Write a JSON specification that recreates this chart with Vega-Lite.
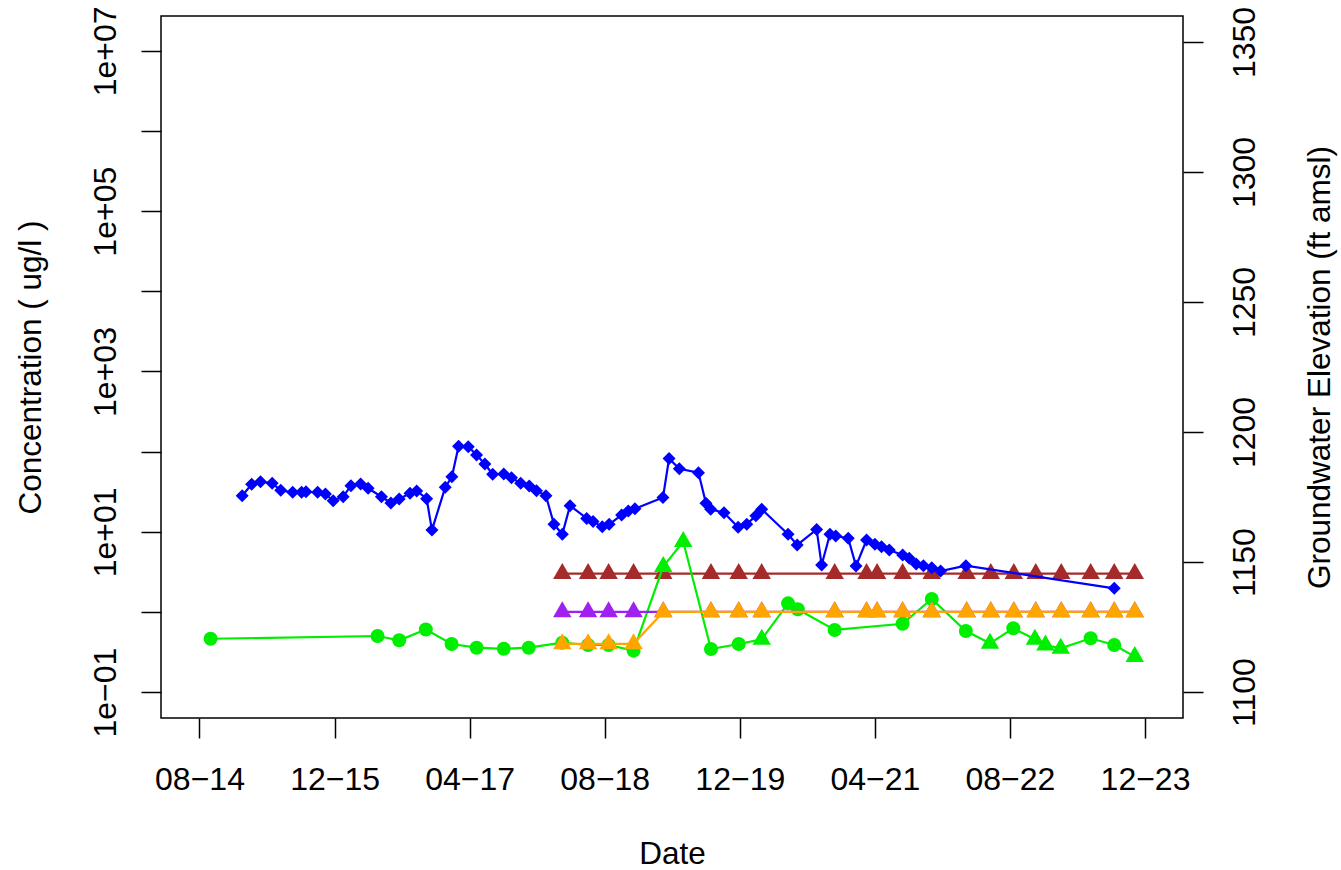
{
  "$schema": "https://vega.github.io/schema/vega-lite/v6.json",
  "width": 1022,
  "height": 702,
  "autosize": "none",
  "padding": {"left": 161, "top": 16, "right": 158, "bottom": 152},
  "background": "white",
  "config": {
    "view": {"stroke": "black", "strokeWidth": 1.5},
    "font": "Liberation Sans",
    "axis": {
      "grid": false,
      "domain": false,
      "labelFont": "Liberation Sans",
      "titleFont": "Liberation Sans",
      "labelFontSize": 32,
      "titleFontSize": 31.5,
      "titleFontWeight": "normal",
      "labelColor": "black",
      "titleColor": "black",
      "tickColor": "black",
      "tickWidth": 1.5,
      "tickSize": 20,
      "labelFlush": false,
      "labelOverlap": false,
      "labelBound": false
    }
  },
  "datasets": {
    "conc": [
      {"analyte": "A", "date": "2015-01-02", "value": 28.2, "detected": true},
      {"analyte": "A", "date": "2015-02-05", "value": 39.2, "detected": true},
      {"analyte": "A", "date": "2015-03-09", "value": 42.2, "detected": true},
      {"analyte": "A", "date": "2015-04-20", "value": 40.3, "detected": true},
      {"analyte": "A", "date": "2015-05-21", "value": 33.0, "detected": true},
      {"analyte": "A", "date": "2015-07-03", "value": 31.1, "detected": true},
      {"analyte": "A", "date": "2015-08-04", "value": 31.1, "detected": true},
      {"analyte": "A", "date": "2015-08-20", "value": 31.6, "detected": true},
      {"analyte": "A", "date": "2015-10-01", "value": 31.1, "detected": true},
      {"analyte": "A", "date": "2015-10-29", "value": 29.6, "detected": true},
      {"analyte": "A", "date": "2015-11-26", "value": 24.4, "detected": true},
      {"analyte": "A", "date": "2016-01-01", "value": 27.4, "detected": true},
      {"analyte": "A", "date": "2016-01-29", "value": 37.6, "detected": true},
      {"analyte": "A", "date": "2016-03-04", "value": 39.5, "detected": true},
      {"analyte": "A", "date": "2016-03-31", "value": 34.9, "detected": true},
      {"analyte": "A", "date": "2016-05-18", "value": 27.4, "detected": true},
      {"analyte": "A", "date": "2016-06-21", "value": 22.9, "detected": true},
      {"analyte": "A", "date": "2016-07-21", "value": 25.7, "detected": true},
      {"analyte": "A", "date": "2016-08-29", "value": 30.2, "detected": true},
      {"analyte": "A", "date": "2016-09-22", "value": 32.3, "detected": true},
      {"analyte": "A", "date": "2016-10-28", "value": 25.9, "detected": true},
      {"analyte": "A", "date": "2016-11-16", "value": 10.5, "detected": true},
      {"analyte": "A", "date": "2017-01-03", "value": 35.9, "detected": true},
      {"analyte": "A", "date": "2017-01-27", "value": 48.5, "detected": true},
      {"analyte": "A", "date": "2017-02-20", "value": 116.6, "detected": true},
      {"analyte": "A", "date": "2017-03-27", "value": 115.3, "detected": true},
      {"analyte": "A", "date": "2017-04-26", "value": 90.8, "detected": true},
      {"analyte": "A", "date": "2017-05-26", "value": 70.1, "detected": true},
      {"analyte": "A", "date": "2017-06-23", "value": 52.2, "detected": true},
      {"analyte": "A", "date": "2017-08-02", "value": 52.6, "detected": true},
      {"analyte": "A", "date": "2017-08-30", "value": 47.3, "detected": true},
      {"analyte": "A", "date": "2017-10-02", "value": 40.3, "detected": true},
      {"analyte": "A", "date": "2017-11-02", "value": 37.3, "detected": true},
      {"analyte": "A", "date": "2017-11-28", "value": 32.6, "detected": true},
      {"analyte": "A", "date": "2018-01-01", "value": 28.2, "detected": true},
      {"analyte": "A", "date": "2018-01-30", "value": 12.4, "detected": true},
      {"analyte": "A", "date": "2018-03-01", "value": 9.3, "detected": true},
      {"analyte": "A", "date": "2018-03-29", "value": 21.2, "detected": true},
      {"analyte": "A", "date": "2018-05-28", "value": 14.7, "detected": true},
      {"analyte": "A", "date": "2018-06-20", "value": 13.4, "detected": true},
      {"analyte": "A", "date": "2018-07-23", "value": 11.6, "detected": true},
      {"analyte": "A", "date": "2018-08-17", "value": 12.4, "detected": true},
      {"analyte": "A", "date": "2018-10-01", "value": 16.2, "detected": true},
      {"analyte": "A", "date": "2018-10-25", "value": 18.2, "detected": true},
      {"analyte": "A", "date": "2018-11-18", "value": 19.4, "detected": true},
      {"analyte": "A", "date": "2019-02-27", "value": 26.8, "detected": true},
      {"analyte": "A", "date": "2019-03-21", "value": 81.9, "detected": true},
      {"analyte": "A", "date": "2019-04-27", "value": 61.1, "detected": true},
      {"analyte": "A", "date": "2019-07-05", "value": 54.6, "detected": true},
      {"analyte": "A", "date": "2019-08-01", "value": 22.7, "detected": true},
      {"analyte": "A", "date": "2019-08-18", "value": 19.1, "detected": true},
      {"analyte": "A", "date": "2019-10-05", "value": 17.3, "detected": true},
      {"analyte": "A", "date": "2019-11-25", "value": 11.4, "detected": true},
      {"analyte": "A", "date": "2019-12-26", "value": 12.4, "detected": true},
      {"analyte": "A", "date": "2020-01-28", "value": 15.9, "detected": true},
      {"analyte": "A", "date": "2020-02-18", "value": 19.1, "detected": true},
      {"analyte": "A", "date": "2020-05-23", "value": 9.3, "detected": true},
      {"analyte": "A", "date": "2020-06-25", "value": 6.85, "detected": true},
      {"analyte": "A", "date": "2020-09-03", "value": 10.7, "detected": true},
      {"analyte": "A", "date": "2020-09-21", "value": 3.85, "detected": true},
      {"analyte": "A", "date": "2020-10-21", "value": 9.3, "detected": true},
      {"analyte": "A", "date": "2020-11-11", "value": 8.87, "detected": true},
      {"analyte": "A", "date": "2020-12-26", "value": 8.3, "detected": true},
      {"analyte": "A", "date": "2021-01-23", "value": 3.74, "detected": true},
      {"analyte": "A", "date": "2021-03-02", "value": 7.9, "detected": true},
      {"analyte": "A", "date": "2021-04-01", "value": 6.98, "detected": true},
      {"analyte": "A", "date": "2021-04-25", "value": 6.52, "detected": true},
      {"analyte": "A", "date": "2021-05-23", "value": 5.93, "detected": true},
      {"analyte": "A", "date": "2021-07-10", "value": 5.14, "detected": true},
      {"analyte": "A", "date": "2021-08-03", "value": 4.67, "detected": true},
      {"analyte": "A", "date": "2021-08-28", "value": 3.96, "detected": true},
      {"analyte": "A", "date": "2021-09-23", "value": 3.78, "detected": true},
      {"analyte": "A", "date": "2021-10-23", "value": 3.57, "detected": true},
      {"analyte": "A", "date": "2021-11-24", "value": 3.24, "detected": true},
      {"analyte": "A", "date": "2022-02-23", "value": 3.78, "detected": true},
      {"analyte": "A", "date": "2023-08-12", "value": 1.97, "detected": true},

      {"analyte": "B", "date": "2014-09-10", "value": 0.463, "detected": true},
      {"analyte": "B", "date": "2016-05-04", "value": 0.501, "detected": true},
      {"analyte": "B", "date": "2016-07-21", "value": 0.443, "detected": true},
      {"analyte": "B", "date": "2016-10-25", "value": 0.604, "detected": true},
      {"analyte": "B", "date": "2017-01-26", "value": 0.398, "detected": true},
      {"analyte": "B", "date": "2017-04-26", "value": 0.358, "detected": true},
      {"analyte": "B", "date": "2017-08-02", "value": 0.347, "detected": true},
      {"analyte": "B", "date": "2017-10-31", "value": 0.358, "detected": true},
      {"analyte": "B", "date": "2018-03-01", "value": 0.413, "detected": true},
      {"analyte": "B", "date": "2018-06-02", "value": 0.387, "detected": true},
      {"analyte": "B", "date": "2018-08-15", "value": 0.387, "detected": true},
      {"analyte": "B", "date": "2018-11-13", "value": 0.329, "detected": true},
      {"analyte": "B", "date": "2019-02-28", "value": 3.68, "detected": false},
      {"analyte": "B", "date": "2019-05-11", "value": 7.55, "detected": false},
      {"analyte": "B", "date": "2019-08-19", "value": 0.345, "detected": true},
      {"analyte": "B", "date": "2019-11-27", "value": 0.398, "detected": true},
      {"analyte": "B", "date": "2020-02-18", "value": 0.456, "detected": false},
      {"analyte": "B", "date": "2020-05-23", "value": 1.28, "detected": true},
      {"analyte": "B", "date": "2020-06-27", "value": 1.08, "detected": true},
      {"analyte": "B", "date": "2020-11-07", "value": 0.596, "detected": true},
      {"analyte": "B", "date": "2021-07-10", "value": 0.713, "detected": true},
      {"analyte": "B", "date": "2021-10-23", "value": 1.45, "detected": true},
      {"analyte": "B", "date": "2022-02-23", "value": 0.578, "detected": true},
      {"analyte": "B", "date": "2022-05-21", "value": 0.406, "detected": false},
      {"analyte": "B", "date": "2022-08-13", "value": 0.625, "detected": true},
      {"analyte": "B", "date": "2022-10-30", "value": 0.456, "detected": false},
      {"analyte": "B", "date": "2022-12-07", "value": 0.387, "detected": false},
      {"analyte": "B", "date": "2023-01-31", "value": 0.352, "detected": false},
      {"analyte": "B", "date": "2023-05-19", "value": 0.469, "detected": true},
      {"analyte": "B", "date": "2023-08-12", "value": 0.387, "detected": true},
      {"analyte": "B", "date": "2023-10-25", "value": 0.277, "detected": false},

      {"analyte": "C", "date": "2018-03-01", "value": 3, "detected": false},
      {"analyte": "C", "date": "2018-06-02", "value": 3, "detected": false},
      {"analyte": "C", "date": "2018-08-15", "value": 3, "detected": false},
      {"analyte": "C", "date": "2018-11-13", "value": 3, "detected": false},
      {"analyte": "C", "date": "2019-02-28", "value": 3, "detected": false},
      {"analyte": "C", "date": "2019-08-19", "value": 3, "detected": false},
      {"analyte": "C", "date": "2019-11-27", "value": 3, "detected": false},
      {"analyte": "C", "date": "2020-02-18", "value": 3, "detected": false},
      {"analyte": "C", "date": "2020-11-07", "value": 3, "detected": false},
      {"analyte": "C", "date": "2021-03-02", "value": 3, "detected": false},
      {"analyte": "C", "date": "2021-04-09", "value": 3, "detected": false},
      {"analyte": "C", "date": "2021-07-10", "value": 3, "detected": false},
      {"analyte": "C", "date": "2021-10-23", "value": 3, "detected": false},
      {"analyte": "C", "date": "2022-02-26", "value": 3, "detected": false},
      {"analyte": "C", "date": "2022-05-24", "value": 3, "detected": false},
      {"analyte": "C", "date": "2022-08-15", "value": 3, "detected": false},
      {"analyte": "C", "date": "2022-11-02", "value": 3, "detected": false},
      {"analyte": "C", "date": "2023-02-02", "value": 3, "detected": false},
      {"analyte": "C", "date": "2023-05-19", "value": 3, "detected": false},
      {"analyte": "C", "date": "2023-08-12", "value": 3, "detected": false},
      {"analyte": "C", "date": "2023-10-25", "value": 3, "detected": false},

      {"analyte": "D", "date": "2018-03-01", "value": 1, "detected": false},
      {"analyte": "D", "date": "2018-06-02", "value": 1, "detected": false},
      {"analyte": "D", "date": "2018-08-15", "value": 1, "detected": false},
      {"analyte": "D", "date": "2018-11-13", "value": 1, "detected": false},
      {"analyte": "D", "date": "2019-02-28", "value": 1, "detected": false},
      {"analyte": "D", "date": "2019-08-19", "value": 1, "detected": false},
      {"analyte": "D", "date": "2019-11-27", "value": 1, "detected": false},
      {"analyte": "D", "date": "2020-02-18", "value": 1, "detected": false},
      {"analyte": "D", "date": "2020-11-07", "value": 1, "detected": false},
      {"analyte": "D", "date": "2021-03-02", "value": 1, "detected": false},
      {"analyte": "D", "date": "2021-04-09", "value": 1, "detected": false},
      {"analyte": "D", "date": "2021-07-10", "value": 1, "detected": false},
      {"analyte": "D", "date": "2021-10-23", "value": 1, "detected": false},
      {"analyte": "D", "date": "2022-02-26", "value": 1, "detected": false},
      {"analyte": "D", "date": "2022-05-24", "value": 1, "detected": false},
      {"analyte": "D", "date": "2022-08-15", "value": 1, "detected": false},
      {"analyte": "D", "date": "2022-11-02", "value": 1, "detected": false},
      {"analyte": "D", "date": "2023-02-02", "value": 1, "detected": false},
      {"analyte": "D", "date": "2023-05-19", "value": 1, "detected": false},
      {"analyte": "D", "date": "2023-08-12", "value": 1, "detected": false},
      {"analyte": "D", "date": "2023-10-25", "value": 1, "detected": false},

      {"analyte": "E", "date": "2018-03-01", "value": 0.4, "detected": false},
      {"analyte": "E", "date": "2018-06-02", "value": 0.4, "detected": false},
      {"analyte": "E", "date": "2018-08-15", "value": 0.4, "detected": false},
      {"analyte": "E", "date": "2018-11-13", "value": 0.4, "detected": false},
      {"analyte": "E", "date": "2019-02-28", "value": 1, "detected": false},
      {"analyte": "E", "date": "2019-08-19", "value": 1, "detected": false},
      {"analyte": "E", "date": "2019-11-27", "value": 1, "detected": false},
      {"analyte": "E", "date": "2020-02-18", "value": 1, "detected": false},
      {"analyte": "E", "date": "2020-11-07", "value": 1, "detected": false},
      {"analyte": "E", "date": "2021-03-02", "value": 1, "detected": false},
      {"analyte": "E", "date": "2021-04-09", "value": 1, "detected": false},
      {"analyte": "E", "date": "2021-07-10", "value": 1, "detected": false},
      {"analyte": "E", "date": "2021-10-23", "value": 1, "detected": false},
      {"analyte": "E", "date": "2022-02-26", "value": 1, "detected": false},
      {"analyte": "E", "date": "2022-05-24", "value": 1, "detected": false},
      {"analyte": "E", "date": "2022-08-15", "value": 1, "detected": false},
      {"analyte": "E", "date": "2022-11-02", "value": 1, "detected": false},
      {"analyte": "E", "date": "2023-02-02", "value": 1, "detected": false},
      {"analyte": "E", "date": "2023-05-19", "value": 1, "detected": false},
      {"analyte": "E", "date": "2023-08-12", "value": 1, "detected": false},
      {"analyte": "E", "date": "2023-10-25", "value": 1, "detected": false}
    ]
  },
  "data": {"name": "conc"},
  "encoding": {
    "x": {
      "field": "date",
      "type": "temporal",
      "scale": {
        "type": "utc",
        "nice": false,
        "domain": [
          {"year": 2014, "month": 3, "date": 15, "hours": 5, "utc": true},
          {"year": 2024, "month": 4, "date": 15, "hours": 22, "utc": true}
        ]
      },
      "axis": {
        "values": [
          {"year": 2014, "month": 8, "date": 1, "utc": true},
          {"year": 2015, "month": 12, "date": 1, "utc": true},
          {"year": 2017, "month": 4, "date": 1, "utc": true},
          {"year": 2018, "month": 8, "date": 1, "utc": true},
          {"year": 2019, "month": 12, "date": 1, "utc": true},
          {"year": 2021, "month": 4, "date": 1, "utc": true},
          {"year": 2022, "month": 8, "date": 1, "utc": true},
          {"year": 2023, "month": 12, "date": 1, "utc": true}
        ],
        "labelExpr": "utcFormat(datum.value, '%m') + '\u2212' + utcFormat(datum.value, '%y')",
        "labelBaseline": "top",
        "labelAlign": "center",
        "labelPadding": 26,
        "title": "Date",
        "titleX": 511,
        "titleY": 145,
        "titleAlign": "center",
        "titleBaseline": "alphabetic",
        "titleAnchor": null
      }
    }
  },
  "layer": [
    {
      "encoding": {
        "y": {
          "field": "value",
          "type": "quantitative",
          "scale": {"type": "log", "domain": [0.04752, 27250000], "nice": false},
          "axis": {
            "orient": "left",
            "values": [0.1, 1, 10, 100, 1000, 10000, 100000, 1000000, 10000000],
            "labelExpr": "(round(log(datum.value)/LN10) % 2 != 0) ? ('1e' + (datum.value < 1 ? '\u2212' : '+') + (abs(round(log(datum.value)/LN10)) < 10 ? '0' : '') + abs(round(log(datum.value)/LN10))) : ''",
            "labelAngle": -90,
            "labelAlign": "center",
            "labelBaseline": "alphabetic",
            "labelPadding": 26,
            "title": "Concentration ( ug/l )",
            "titleAngle": -90,
            "titleX": -121,
            "titleY": 351,
            "titleAlign": "center",
            "titleBaseline": "alphabetic",
            "titleAnchor": null
          }
        }
      },
      "layer": [
        {"transform": [{"filter": "datum.analyte === 'C'"}], "mark": {"type": "line", "color": "#A52A2A", "strokeWidth": 2.2}},
        {"transform": [{"filter": "datum.analyte === 'C'"}], "mark": {"type": "point", "shape": "triangle-up", "filled": true, "size": 340, "color": "#A52A2A", "opacity": 1, "strokeWidth": 0, "yOffset": -2.6}},
        {"transform": [{"filter": "datum.analyte === 'B'"}], "mark": {"type": "line", "color": "#00EE00", "strokeWidth": 2.2}},
        {"transform": [{"filter": "datum.analyte === 'B' && datum.detected"}], "mark": {"type": "point", "shape": "circle", "filled": true, "size": 196, "color": "#00EE00", "opacity": 1, "strokeWidth": 0}},
        {"transform": [{"filter": "datum.analyte === 'B' && !datum.detected"}], "mark": {"type": "point", "shape": "triangle-up", "filled": true, "size": 340, "color": "#00EE00", "opacity": 1, "strokeWidth": 0, "yOffset": -2.6}},
        {"transform": [{"filter": "datum.analyte === 'D'"}], "mark": {"type": "line", "color": "#A020F0", "strokeWidth": 2.2}},
        {"transform": [{"filter": "datum.analyte === 'D'"}], "mark": {"type": "point", "shape": "triangle-up", "filled": true, "size": 340, "color": "#A020F0", "opacity": 1, "strokeWidth": 0, "yOffset": -2.6}},
        {"transform": [{"filter": "datum.analyte === 'E'"}], "mark": {"type": "line", "color": "#FFA500", "strokeWidth": 2.2}},
        {"transform": [{"filter": "datum.analyte === 'E'"}], "mark": {"type": "point", "shape": "triangle-up", "filled": true, "size": 340, "color": "#FFA500", "opacity": 1, "strokeWidth": 0, "yOffset": -2.6}},
        {"transform": [{"filter": "datum.analyte === 'A'"}], "mark": {"type": "line", "color": "#0000FF", "strokeWidth": 2.2}},
        {"transform": [{"filter": "datum.analyte === 'A'"}], "mark": {"type": "point", "shape": "diamond", "filled": true, "size": 169, "color": "#0000FF", "opacity": 1, "strokeWidth": 0}}
      ]
    },
    {
      "data": {"values": []},
      "mark": {"type": "point", "opacity": 0},
      "encoding": {
        "y": {
          "field": "elevation",
          "type": "quantitative",
          "scale": {"domain": [1090, 1360], "nice": false, "zero": false},
          "axis": {
            "orient": "right",
            "values": [1100, 1150, 1200, 1250, 1300, 1350],
            "format": "d",
            "labelAngle": -90,
            "labelAlign": "center",
            "labelBaseline": "top",
            "labelPadding": 26,
            "title": "Groundwater Elevation (ft amsl)",
            "titleAngle": -90,
            "titleX": 146,
            "titleY": 351,
            "titleAlign": "center",
            "titleBaseline": "alphabetic",
            "titleAnchor": null
          }
        }
      }
    }
  ],
  "resolve": {"scale": {"y": "independent"}}
}
